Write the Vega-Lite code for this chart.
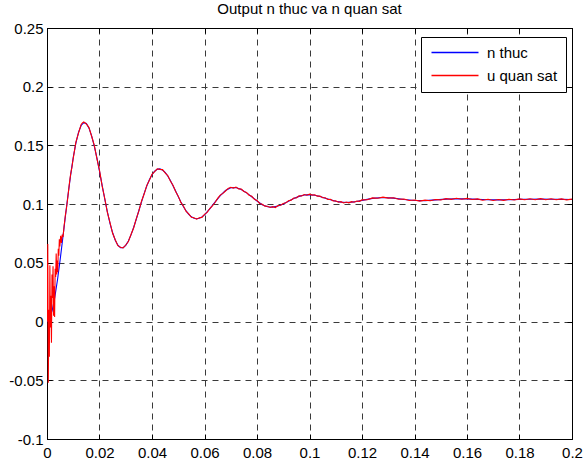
{
  "$schema": "https://vega.github.io/schema/vega-lite/v6.json",
  "width": 525,
  "height": 411,
  "autosize": {"type": "none"},
  "padding": {"left": 47, "top": 28, "right": 11, "bottom": 25},
  "background": "white",
  "title": {
    "text": "Output n thuc va n quan sat",
    "font": "Liberation Sans",
    "fontSize": 15,
    "fontWeight": "normal",
    "color": "black",
    "offset": 4
  },
  "config": {
    "view": {"stroke": "black", "strokeWidth": 1},
    "axis": {
      "title": null,
      "labelFont": "Liberation Sans",
      "labelFontSize": 15,
      "labelColor": "black",
      "domainColor": "black",
      "domainWidth": 1,
      "tickColor": "black",
      "tickWidth": 1,
      "tickSize": -5,
      "labelFlush": false,
      "labelOverlap": false,
      "labelBound": false,
      "gridColor": "#3a3a3a",
      "gridDash": [6, 5],
      "gridWidth": 1
    }
  },
  "data": {
    "values": [
      {"s": "n thuc", "t": 0, "v": 0}, {"s": "n thuc", "t": 0.001, "v": 0.0025}, {"s": "n thuc", "t": 0.002, "v": 0.0097}, {"s": "n thuc", "t": 0.003, "v": 0.021},
      {"s": "n thuc", "t": 0.004, "v": 0.0356}, {"s": "n thuc", "t": 0.005, "v": 0.0525}, {"s": "n thuc", "t": 0.006, "v": 0.0708}, {"s": "n thuc", "t": 0.007, "v": 0.0896},
      {"s": "n thuc", "t": 0.008, "v": 0.1078}, {"s": "n thuc", "t": 0.009, "v": 0.1247}, {"s": "n thuc", "t": 0.01, "v": 0.1397}, {"s": "n thuc", "t": 0.011, "v": 0.1519},
      {"s": "n thuc", "t": 0.012, "v": 0.1611}, {"s": "n thuc", "t": 0.013, "v": 0.167}, {"s": "n thuc", "t": 0.014, "v": 0.1694}, {"s": "n thuc", "t": 0.015, "v": 0.1687},
      {"s": "n thuc", "t": 0.016, "v": 0.1647}, {"s": "n thuc", "t": 0.017, "v": 0.1582}, {"s": "n thuc", "t": 0.018, "v": 0.1496}, {"s": "n thuc", "t": 0.019, "v": 0.1394},
      {"s": "n thuc", "t": 0.02, "v": 0.1281}, {"s": "n thuc", "t": 0.021, "v": 0.116}, {"s": "n thuc", "t": 0.022, "v": 0.1044}, {"s": "n thuc", "t": 0.023, "v": 0.0935},
      {"s": "n thuc", "t": 0.024, "v": 0.0837}, {"s": "n thuc", "t": 0.025, "v": 0.0756}, {"s": "n thuc", "t": 0.026, "v": 0.0693}, {"s": "n thuc", "t": 0.027, "v": 0.065},
      {"s": "n thuc", "t": 0.028, "v": 0.0629}, {"s": "n thuc", "t": 0.029, "v": 0.063}, {"s": "n thuc", "t": 0.03, "v": 0.0649}, {"s": "n thuc", "t": 0.031, "v": 0.0686},
      {"s": "n thuc", "t": 0.032, "v": 0.0738}, {"s": "n thuc", "t": 0.033, "v": 0.0801}, {"s": "n thuc", "t": 0.034, "v": 0.0871}, {"s": "n thuc", "t": 0.035, "v": 0.0946},
      {"s": "n thuc", "t": 0.036, "v": 0.102}, {"s": "n thuc", "t": 0.037, "v": 0.109}, {"s": "n thuc", "t": 0.038, "v": 0.1154}, {"s": "n thuc", "t": 0.039, "v": 0.1208},
      {"s": "n thuc", "t": 0.04, "v": 0.125}, {"s": "n thuc", "t": 0.041, "v": 0.128}, {"s": "n thuc", "t": 0.042, "v": 0.1297}, {"s": "n thuc", "t": 0.043, "v": 0.13},
      {"s": "n thuc", "t": 0.044, "v": 0.129}, {"s": "n thuc", "t": 0.045, "v": 0.127}, {"s": "n thuc", "t": 0.046, "v": 0.124}, {"s": "n thuc", "t": 0.047, "v": 0.1201},
      {"s": "n thuc", "t": 0.048, "v": 0.1157}, {"s": "n thuc", "t": 0.049, "v": 0.1111}, {"s": "n thuc", "t": 0.05, "v": 0.1064}, {"s": "n thuc", "t": 0.051, "v": 0.1019},
      {"s": "n thuc", "t": 0.052, "v": 0.0978}, {"s": "n thuc", "t": 0.053, "v": 0.0942}, {"s": "n thuc", "t": 0.054, "v": 0.0913}, {"s": "n thuc", "t": 0.055, "v": 0.0892},
      {"s": "n thuc", "t": 0.056, "v": 0.088}, {"s": "n thuc", "t": 0.057, "v": 0.0876}, {"s": "n thuc", "t": 0.058, "v": 0.088}, {"s": "n thuc", "t": 0.059, "v": 0.0891},
      {"s": "n thuc", "t": 0.06, "v": 0.0909}, {"s": "n thuc", "t": 0.062, "v": 0.0959}, {"s": "n thuc", "t": 0.064, "v": 0.1018}, {"s": "n thuc", "t": 0.066, "v": 0.1073},
      {"s": "n thuc", "t": 0.068, "v": 0.1116}, {"s": "n thuc", "t": 0.07, "v": 0.114}, {"s": "n thuc", "t": 0.072, "v": 0.1142}, {"s": "n thuc", "t": 0.074, "v": 0.1125},
      {"s": "n thuc", "t": 0.076, "v": 0.1096}, {"s": "n thuc", "t": 0.078, "v": 0.1063}, {"s": "n thuc", "t": 0.08, "v": 0.1027}, {"s": "n thuc", "t": 0.082, "v": 0.0995},
      {"s": "n thuc", "t": 0.084, "v": 0.0978}, {"s": "n thuc", "t": 0.086, "v": 0.0975}, {"s": "n thuc", "t": 0.088, "v": 0.0984}, {"s": "n thuc", "t": 0.09, "v": 0.1002},
      {"s": "n thuc", "t": 0.092, "v": 0.1025}, {"s": "n thuc", "t": 0.094, "v": 0.1048}, {"s": "n thuc", "t": 0.096, "v": 0.1066}, {"s": "n thuc", "t": 0.098, "v": 0.1078},
      {"s": "n thuc", "t": 0.1, "v": 0.1081}, {"s": "n thuc", "t": 0.102, "v": 0.1076}, {"s": "n thuc", "t": 0.104, "v": 0.1065}, {"s": "n thuc", "t": 0.106, "v": 0.1051},
      {"s": "n thuc", "t": 0.108, "v": 0.1037}, {"s": "n thuc", "t": 0.11, "v": 0.1025}, {"s": "n thuc", "t": 0.112, "v": 0.1017}, {"s": "n thuc", "t": 0.114, "v": 0.1014},
      {"s": "n thuc", "t": 0.116, "v": 0.1017}, {"s": "n thuc", "t": 0.118, "v": 0.1023}, {"s": "n thuc", "t": 0.12, "v": 0.1032}, {"s": "n thuc", "t": 0.124, "v": 0.1049},
      {"s": "n thuc", "t": 0.128, "v": 0.1056}, {"s": "n thuc", "t": 0.132, "v": 0.1051}, {"s": "n thuc", "t": 0.136, "v": 0.104}, {"s": "n thuc", "t": 0.14, "v": 0.1031},
      {"s": "n thuc", "t": 0.144, "v": 0.103}, {"s": "n thuc", "t": 0.148, "v": 0.1036}, {"s": "n thuc", "t": 0.152, "v": 0.1043}, {"s": "n thuc", "t": 0.156, "v": 0.1046},
      {"s": "n thuc", "t": 0.16, "v": 0.1045}, {"s": "n thuc", "t": 0.164, "v": 0.1041}, {"s": "n thuc", "t": 0.168, "v": 0.1037}, {"s": "n thuc", "t": 0.172, "v": 0.1036},
      {"s": "n thuc", "t": 0.176, "v": 0.1038}, {"s": "n thuc", "t": 0.18, "v": 0.1041}, {"s": "n thuc", "t": 0.184, "v": 0.1042}, {"s": "n thuc", "t": 0.188, "v": 0.1043},
      {"s": "n thuc", "t": 0.192, "v": 0.1042}, {"s": "n thuc", "t": 0.196, "v": 0.1041}, {"s": "n thuc", "t": 0.2, "v": 0.104},

      {"s": "u quan sat", "t": 0, "v": 0}, {"s": "u quan sat", "t": 0.0003, "v": 0.066}, {"s": "u quan sat", "t": 0.0005, "v": -0.052}, {"s": "u quan sat", "t": 0.0007, "v": 0.01},
      {"s": "u quan sat", "t": 0.0009, "v": -0.03}, {"s": "u quan sat", "t": 0.0011, "v": 0.048}, {"s": "u quan sat", "t": 0.0013, "v": -0.005}, {"s": "u quan sat", "t": 0.0015, "v": 0.022},
      {"s": "u quan sat", "t": 0.0017, "v": -0.018}, {"s": "u quan sat", "t": 0.0019, "v": 0.04}, {"s": "u quan sat", "t": 0.0021, "v": 0.02}, {"s": "u quan sat", "t": 0.0023, "v": 0.047},
      {"s": "u quan sat", "t": 0.0025, "v": 0.005}, {"s": "u quan sat", "t": 0.0027, "v": 0.03}, {"s": "u quan sat", "t": 0.0029, "v": 0.004}, {"s": "u quan sat", "t": 0.0031, "v": 0.045},
      {"s": "u quan sat", "t": 0.0033, "v": 0.038}, {"s": "u quan sat", "t": 0.0035, "v": 0.058}, {"s": "u quan sat", "t": 0.0037, "v": 0.04}, {"s": "u quan sat", "t": 0.0039, "v": 0.052},
      {"s": "u quan sat", "t": 0.0041, "v": 0.042}, {"s": "u quan sat", "t": 0.0043, "v": 0.062}, {"s": "u quan sat", "t": 0.0045, "v": 0.056}, {"s": "u quan sat", "t": 0.0047, "v": 0.07},
      {"s": "u quan sat", "t": 0.0049, "v": 0.064}, {"s": "u quan sat", "t": 0.0052, "v": 0.073}, {"s": "u quan sat", "t": 0.0055, "v": 0.067}, {"s": "u quan sat", "t": 0.0058, "v": 0.074},
      {"s": "u quan sat", "t": 0.0061, "v": 0.072}, {"s": "u quan sat", "t": 0.0065, "v": 0.081}, {"s": "u quan sat", "t": 0.007, "v": 0.0905}, {"s": "u quan sat", "t": 0.0075, "v": 0.098},
      {"s": "u quan sat", "t": 0.008, "v": 0.107}, {"s": "u quan sat", "t": 0.0085, "v": 0.117}, {"s": "u quan sat", "t": 0.009, "v": 0.1255}, {"s": "u quan sat", "t": 0.0095, "v": 0.1315},
      {"s": "u quan sat", "t": 0.01, "v": 0.1392}, {"s": "u quan sat", "t": 0.011, "v": 0.1528}, {"s": "u quan sat", "t": 0.012, "v": 0.1605}, {"s": "u quan sat", "t": 0.013, "v": 0.1678},
      {"s": "u quan sat", "t": 0.0135, "v": 0.1692}, {"s": "u quan sat", "t": 0.014, "v": 0.17}, {"s": "u quan sat", "t": 0.015, "v": 0.1683}, {"s": "u quan sat", "t": 0.016, "v": 0.1652},
      {"s": "u quan sat", "t": 0.017, "v": 0.1578}, {"s": "u quan sat", "t": 0.018, "v": 0.1502}, {"s": "u quan sat", "t": 0.019, "v": 0.139}, {"s": "u quan sat", "t": 0.02, "v": 0.1287},
      {"s": "u quan sat", "t": 0.021, "v": 0.1155}, {"s": "u quan sat", "t": 0.022, "v": 0.1048}, {"s": "u quan sat", "t": 0.023, "v": 0.093}, {"s": "u quan sat", "t": 0.024, "v": 0.0842},
      {"s": "u quan sat", "t": 0.025, "v": 0.0752}, {"s": "u quan sat", "t": 0.026, "v": 0.0697}, {"s": "u quan sat", "t": 0.027, "v": 0.0646}, {"s": "u quan sat", "t": 0.028, "v": 0.0633},
      {"s": "u quan sat", "t": 0.029, "v": 0.0627}, {"s": "u quan sat", "t": 0.03, "v": 0.0652}, {"s": "u quan sat", "t": 0.031, "v": 0.0682}, {"s": "u quan sat", "t": 0.032, "v": 0.0742},
      {"s": "u quan sat", "t": 0.033, "v": 0.0797}, {"s": "u quan sat", "t": 0.034, "v": 0.0875}, {"s": "u quan sat", "t": 0.035, "v": 0.0942}, {"s": "u quan sat", "t": 0.036, "v": 0.1025},
      {"s": "u quan sat", "t": 0.037, "v": 0.1086}, {"s": "u quan sat", "t": 0.038, "v": 0.1158}, {"s": "u quan sat", "t": 0.039, "v": 0.1204}, {"s": "u quan sat", "t": 0.04, "v": 0.1254},
      {"s": "u quan sat", "t": 0.041, "v": 0.1277}, {"s": "u quan sat", "t": 0.042, "v": 0.1301}, {"s": "u quan sat", "t": 0.043, "v": 0.1296}, {"s": "u quan sat", "t": 0.044, "v": 0.1294},
      {"s": "u quan sat", "t": 0.045, "v": 0.1266}, {"s": "u quan sat", "t": 0.046, "v": 0.1244}, {"s": "u quan sat", "t": 0.047, "v": 0.1197}, {"s": "u quan sat", "t": 0.048, "v": 0.1161},
      {"s": "u quan sat", "t": 0.049, "v": 0.1107}, {"s": "u quan sat", "t": 0.05, "v": 0.1068}, {"s": "u quan sat", "t": 0.051, "v": 0.1015}, {"s": "u quan sat", "t": 0.052, "v": 0.0982},
      {"s": "u quan sat", "t": 0.053, "v": 0.0938}, {"s": "u quan sat", "t": 0.054, "v": 0.0917}, {"s": "u quan sat", "t": 0.055, "v": 0.0888}, {"s": "u quan sat", "t": 0.056, "v": 0.0884},
      {"s": "u quan sat", "t": 0.057, "v": 0.0872}, {"s": "u quan sat", "t": 0.058, "v": 0.0884}, {"s": "u quan sat", "t": 0.059, "v": 0.0887}, {"s": "u quan sat", "t": 0.06, "v": 0.0913},
      {"s": "u quan sat", "t": 0.061, "v": 0.093}, {"s": "u quan sat", "t": 0.062, "v": 0.0963}, {"s": "u quan sat", "t": 0.063, "v": 0.0985}, {"s": "u quan sat", "t": 0.064, "v": 0.1014},
      {"s": "u quan sat", "t": 0.065, "v": 0.1049}, {"s": "u quan sat", "t": 0.066, "v": 0.1077}, {"s": "u quan sat", "t": 0.067, "v": 0.1092}, {"s": "u quan sat", "t": 0.068, "v": 0.1112},
      {"s": "u quan sat", "t": 0.069, "v": 0.1134}, {"s": "u quan sat", "t": 0.07, "v": 0.1144}, {"s": "u quan sat", "t": 0.071, "v": 0.1137}, {"s": "u quan sat", "t": 0.072, "v": 0.1146},
      {"s": "u quan sat", "t": 0.073, "v": 0.113}, {"s": "u quan sat", "t": 0.074, "v": 0.1129}, {"s": "u quan sat", "t": 0.075, "v": 0.1108}, {"s": "u quan sat", "t": 0.076, "v": 0.11},
      {"s": "u quan sat", "t": 0.077, "v": 0.1076}, {"s": "u quan sat", "t": 0.078, "v": 0.1067}, {"s": "u quan sat", "t": 0.079, "v": 0.1041}, {"s": "u quan sat", "t": 0.08, "v": 0.1031},
      {"s": "u quan sat", "t": 0.081, "v": 0.1006}, {"s": "u quan sat", "t": 0.082, "v": 0.0999}, {"s": "u quan sat", "t": 0.083, "v": 0.0983}, {"s": "u quan sat", "t": 0.084, "v": 0.0982},
      {"s": "u quan sat", "t": 0.085, "v": 0.0972}, {"s": "u quan sat", "t": 0.086, "v": 0.0979}, {"s": "u quan sat", "t": 0.087, "v": 0.0971}, {"s": "u quan sat", "t": 0.088, "v": 0.0988},
      {"s": "u quan sat", "t": 0.089, "v": 0.099}, {"s": "u quan sat", "t": 0.09, "v": 0.1006}, {"s": "u quan sat", "t": 0.091, "v": 0.1011}, {"s": "u quan sat", "t": 0.092, "v": 0.1029},
      {"s": "u quan sat", "t": 0.093, "v": 0.1034}, {"s": "u quan sat", "t": 0.094, "v": 0.1052}, {"s": "u quan sat", "t": 0.095, "v": 0.1053}, {"s": "u quan sat", "t": 0.096, "v": 0.107},
      {"s": "u quan sat", "t": 0.097, "v": 0.1069}, {"s": "u quan sat", "t": 0.098, "v": 0.1082}, {"s": "u quan sat", "t": 0.099, "v": 0.1076}, {"s": "u quan sat", "t": 0.1, "v": 0.1085},
      {"s": "u quan sat", "t": 0.101, "v": 0.1077}, {"s": "u quan sat", "t": 0.102, "v": 0.108}, {"s": "u quan sat", "t": 0.103, "v": 0.1068}, {"s": "u quan sat", "t": 0.104, "v": 0.1069},
      {"s": "u quan sat", "t": 0.105, "v": 0.1054}, {"s": "u quan sat", "t": 0.106, "v": 0.1055}, {"s": "u quan sat", "t": 0.107, "v": 0.104}, {"s": "u quan sat", "t": 0.108, "v": 0.1041},
      {"s": "u quan sat", "t": 0.109, "v": 0.1027}, {"s": "u quan sat", "t": 0.11, "v": 0.1029}, {"s": "u quan sat", "t": 0.111, "v": 0.1016}, {"s": "u quan sat", "t": 0.112, "v": 0.1021},
      {"s": "u quan sat", "t": 0.113, "v": 0.101}, {"s": "u quan sat", "t": 0.114, "v": 0.1018}, {"s": "u quan sat", "t": 0.115, "v": 0.1011}, {"s": "u quan sat", "t": 0.116, "v": 0.1021},
      {"s": "u quan sat", "t": 0.117, "v": 0.1016}, {"s": "u quan sat", "t": 0.118, "v": 0.1027}, {"s": "u quan sat", "t": 0.119, "v": 0.1024}, {"s": "u quan sat", "t": 0.12, "v": 0.1036},
      {"s": "u quan sat", "t": 0.122, "v": 0.1037}, {"s": "u quan sat", "t": 0.124, "v": 0.1053}, {"s": "u quan sat", "t": 0.126, "v": 0.105}, {"s": "u quan sat", "t": 0.128, "v": 0.106},
      {"s": "u quan sat", "t": 0.13, "v": 0.1051}, {"s": "u quan sat", "t": 0.132, "v": 0.1055}, {"s": "u quan sat", "t": 0.134, "v": 0.1042}, {"s": "u quan sat", "t": 0.136, "v": 0.1044},
      {"s": "u quan sat", "t": 0.138, "v": 0.1031}, {"s": "u quan sat", "t": 0.14, "v": 0.1035}, {"s": "u quan sat", "t": 0.142, "v": 0.1026}, {"s": "u quan sat", "t": 0.144, "v": 0.1034},
      {"s": "u quan sat", "t": 0.146, "v": 0.1029}, {"s": "u quan sat", "t": 0.148, "v": 0.104}, {"s": "u quan sat", "t": 0.15, "v": 0.1036}, {"s": "u quan sat", "t": 0.152, "v": 0.1047},
      {"s": "u quan sat", "t": 0.154, "v": 0.1041}, {"s": "u quan sat", "t": 0.156, "v": 0.105}, {"s": "u quan sat", "t": 0.158, "v": 0.1042}, {"s": "u quan sat", "t": 0.16, "v": 0.1049},
      {"s": "u quan sat", "t": 0.162, "v": 0.1039}, {"s": "u quan sat", "t": 0.164, "v": 0.1045}, {"s": "u quan sat", "t": 0.166, "v": 0.1033}, {"s": "u quan sat", "t": 0.168, "v": 0.1041},
      {"s": "u quan sat", "t": 0.17, "v": 0.1031}, {"s": "u quan sat", "t": 0.172, "v": 0.104}, {"s": "u quan sat", "t": 0.174, "v": 0.1032}, {"s": "u quan sat", "t": 0.176, "v": 0.1042},
      {"s": "u quan sat", "t": 0.178, "v": 0.1035}, {"s": "u quan sat", "t": 0.18, "v": 0.1045}, {"s": "u quan sat", "t": 0.182, "v": 0.1037}, {"s": "u quan sat", "t": 0.184, "v": 0.1046},
      {"s": "u quan sat", "t": 0.186, "v": 0.1038}, {"s": "u quan sat", "t": 0.188, "v": 0.1047}, {"s": "u quan sat", "t": 0.19, "v": 0.1038}, {"s": "u quan sat", "t": 0.192, "v": 0.1046},
      {"s": "u quan sat", "t": 0.194, "v": 0.1037}, {"s": "u quan sat", "t": 0.196, "v": 0.1045}, {"s": "u quan sat", "t": 0.198, "v": 0.1036}, {"s": "u quan sat", "t": 0.2, "v": 0.1043}
    ]
  },
  "layer": [
    {
      "mark": {"type": "line", "strokeWidth": 1.1, "clip": true},
      "encoding": {
        "x": {
          "field": "t",
          "type": "quantitative",
          "scale": {"domain": [0, 0.2], "nice": false, "zero": false},
          "axis": {
            "orient": "bottom",
            "values": [0, 0.02, 0.04, 0.06, 0.08, 0.1, 0.12, 0.14, 0.16, 0.18, 0.2],
            "grid": true,
            "labelPadding": 11,
            "labelExpr": "replace(format(datum.value, '~g'), '\u2212', '-')"
          }
        },
        "y": {
          "field": "v",
          "type": "quantitative",
          "scale": {"domain": [-0.1, 0.25], "nice": false, "zero": false},
          "axis": {
            "orient": "left",
            "values": [-0.1, -0.05, 0, 0.05, 0.1, 0.15, 0.2, 0.25],
            "grid": true,
            "labelPadding": 9,
            "labelExpr": "replace(format(datum.value, '~g'), '\u2212', '-')"
          }
        },
        "color": {
          "field": "s",
          "type": "nominal",
          "scale": {"domain": ["n thuc", "u quan sat"], "range": ["#0000ff", "#ff0000"]},
          "legend": {
            "title": null,
            "orient": "none",
            "legendX": 374,
            "legendY": 9,
            "fillColor": "white",
            "strokeColor": "black",
            "padding": 8,
            "rowPadding": 7,
            "symbolType": "M-1,0L8.4,0",
            "symbolSize": 100,
            "symbolStrokeWidth": 1.5,
            "labelFont": "Liberation Sans",
            "labelFontSize": 15,
            "labelColor": "black",
            "labelOffset": 43
          }
        }
      }
    },
    {
      "mark": {"type": "point", "opacity": 0, "size": 1},
      "encoding": {
        "x": {
          "field": "t",
          "type": "quantitative",
          "axis": {
            "orient": "top",
            "values": [0, 0.02, 0.04, 0.06, 0.08, 0.1, 0.12, 0.14, 0.16, 0.18, 0.2],
            "grid": false,
            "labels": false
          }
        },
        "y": {
          "field": "v",
          "type": "quantitative",
          "axis": {
            "orient": "right",
            "values": [-0.1, -0.05, 0, 0.05, 0.1, 0.15, 0.2, 0.25],
            "grid": false,
            "labels": false
          }
        }
      }
    }
  ],
  "resolve": {"axis": {"x": "independent", "y": "independent"}}
}
